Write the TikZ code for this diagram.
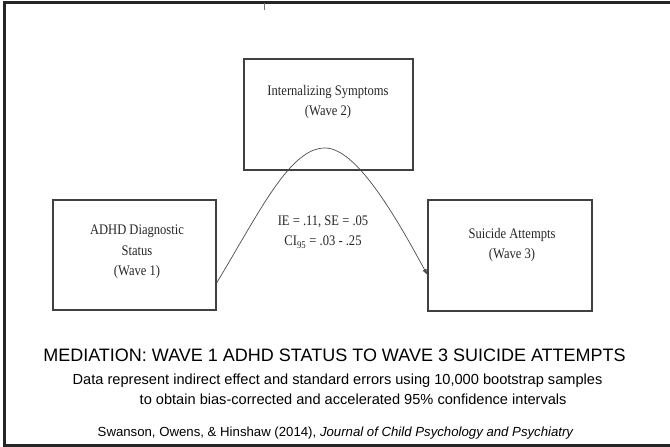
\documentclass[tikz,border=0pt]{standalone}
\usepackage{fontspec}
\setmainfont{Liberation Serif}
\setsansfont{Liberation Sans}
\newfontfamily\boxfont[FakeStretch=0.86]{Liberation Serif}
\usetikzlibrary{arrows.meta,calc}

\tikzset{
  varbox/.style={draw=black!75, line width=1.2pt, minimum width=#1, inner sep=0pt},
  varbox/.default=164pt,
  boxtext/.style={align=center, font=\boxfont\fontsize{14.6}{20.5}\selectfont, text=black!85, inner sep=0pt},
  path/.style={draw=black!70, line width=0.7pt},
  frame/.style={draw=black!85, line width=2.5pt},
  caption/.style={font=\sffamily, inner sep=0pt},
}

\begin{document}
\begin{tikzpicture}[x=1pt, y=-1pt]
  \useasboundingbox (0,0) rectangle (670,447);

  % slide frame, open on the right
  \draw[frame] (672,2.5) -- (4.5,2.5) -- (4.5,445.5) -- (672,445.5);
  \draw[black!55, line width=0.8pt] (264,3) -- (264,10);

  % variable boxes
  \node[varbox=163pt, minimum height=110pt] (adhd) at (134.5,255) {};
  \node[varbox=169pt, minimum height=111pt] (intern) at (328.5,114.5) {};
  \node[varbox=164pt, minimum height=111pt] (suicide) at (510,255.5) {};

  \node[boxtext] (adhdtext) at (137,252) {ADHD Diagnostic\\Status\\(Wave 1)};
  \node[boxtext] (interntext) at (328,102) {Internalizing Symptoms\\(Wave 2)};
  \node[boxtext] (suicidetext) at (512,245) {Suicide Attempts\\(Wave 3)};

  % indirect path through the mediator
  \coordinate (peak) at (325,148);
  \draw[path, -{Latex[length=6pt,width=4.5pt]}]
    ([yshift=-28pt]adhd.east) .. controls +(44,-73) and (290,148) .. (peak)
    .. controls (356,148) and (395,215) .. ([yshift=-19.5pt]suicide.west);

  \node[boxtext] (effect) at (323,232) {IE = .11, SE = .05\\CI\textsubscript{95} = .03 - .25};

  % caption
  \node[caption, font=\sffamily\fontsize{18}{20}\selectfont] (title) at (334.5,355)
    {MEDIATION: WAVE 1 ADHD STATUS TO WAVE 3 SUICIDE ATTEMPTS};
  \node[caption, anchor=west, font=\sffamily\fontsize{14.6}{18}\selectfont] (note1) at (72.5,381)
    {Data represent indirect effect and standard errors using 10,000 bootstrap samples};
  \node[caption, anchor=west, font=\sffamily\fontsize{14.6}{18}\selectfont] (note2) at (139.5,399)
    {to obtain bias-corrected and accelerated 95\% confidence intervals};
  \node[caption, anchor=west, font=\sffamily\fontsize{13.2}{15}\selectfont] (cite) at (97.5,433)
    {Swanson, Owens, \& Hinshaw (2014), \textit{Journal of Child Psychology and Psychiatry}};
\end{tikzpicture}
\end{document}
